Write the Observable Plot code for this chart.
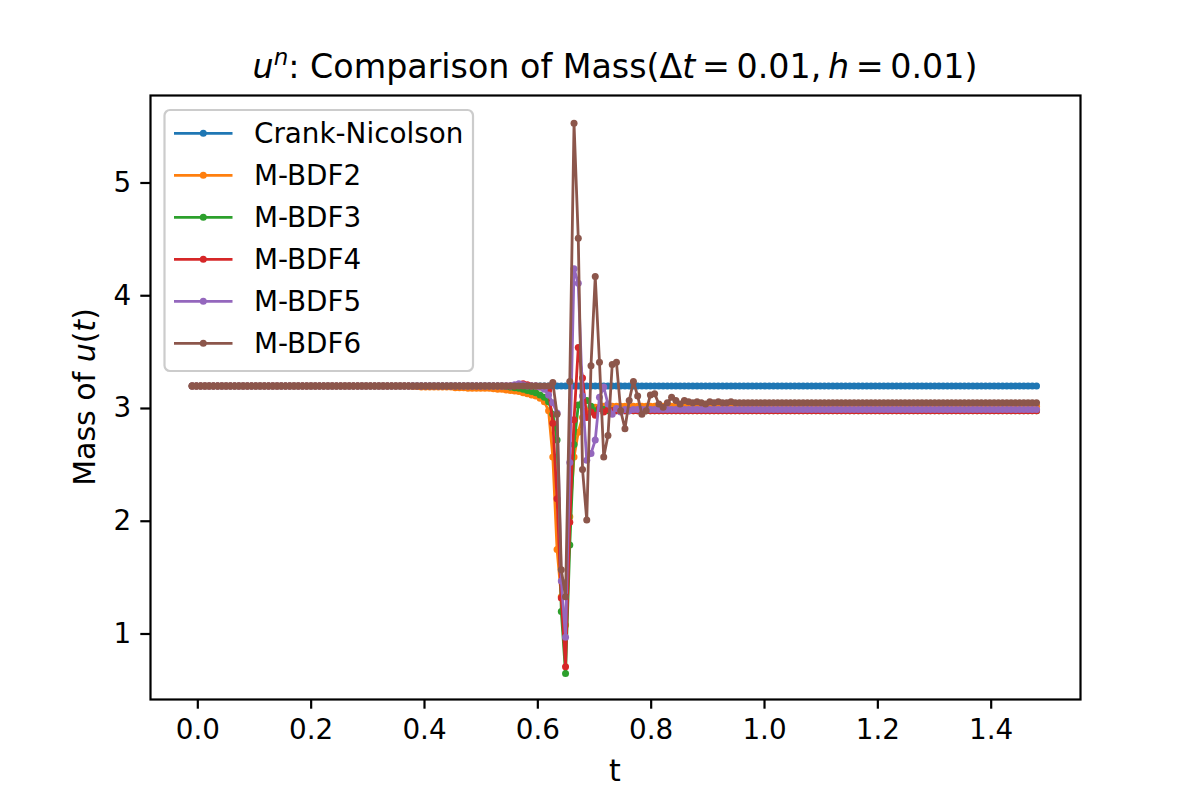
<!DOCTYPE html>
<html><head><meta charset="utf-8">
<script src="https://cdn.jsdelivr.net/npm/d3@7"></script>
<script src="https://cdn.jsdelivr.net/npm/@observablehq/plot@0.6"></script>
<style>
html,body{margin:0;padding:0;background:#fff;}
#chart{width:1200px;height:800px;}
</style></head><body><div id="chart"></div>
<script>
// sample times (x), evenly spaced grid
const tFirst = -0.01, tLast = 1.48, nSamples = 200;
const xTicks = [0, 0.2, 0.4, 0.6, 0.8, 1.0, 1.2, 1.4];
const yTicks = [1, 2, 3, 4, 5];
const seriesNames = ["Crank-Nicolson", "M-BDF2", "M-BDF3", "M-BDF4", "M-BDF5", "M-BDF6"];
const seriesColors = ["#1f77b4", "#ff7f0e", "#2ca02c", "#d62728", "#9467bd", "#8c564b"];

const massCN = [
3.2,3.2,3.2,3.2,3.2,3.2,3.2,3.2,3.2,3.2, 3.2,3.2,3.2,3.2,3.2,3.2,3.2,3.2,3.2,3.2,
3.2,3.2,3.2,3.2,3.2,3.2,3.2,3.2,3.2,3.2, 3.2,3.2,3.2,3.2,3.2,3.2,3.2,3.2,3.2,3.2,
3.2,3.2,3.2,3.2,3.2,3.2,3.2,3.2,3.2,3.2, 3.2,3.2,3.2,3.2,3.2,3.2,3.2,3.2,3.2,3.2,
3.2,3.2,3.2,3.2,3.2,3.2,3.2,3.2,3.2,3.2, 3.2,3.2,3.2,3.2,3.2,3.2,3.2,3.2,3.2,3.2,
3.2,3.2,3.2,3.2,3.2,3.2,3.2,3.2,3.2,3.2, 3.2,3.2,3.2,3.2,3.2,3.2,3.2,3.2,3.2,3.2,
3.2,3.2,3.2,3.2,3.2,3.2,3.2,3.2,3.2,3.2, 3.2,3.2,3.2,3.2,3.2,3.2,3.2,3.2,3.2,3.2,
3.2,3.2,3.2,3.2,3.2,3.2,3.2,3.2,3.2,3.2, 3.2,3.2,3.2,3.2,3.2,3.2,3.2,3.2,3.2,3.2,
3.2,3.2,3.2,3.2,3.2,3.2,3.2,3.2,3.2,3.2, 3.2,3.2,3.2,3.2,3.2,3.2,3.2,3.2,3.2,3.2,
3.2,3.2,3.2,3.2,3.2,3.2,3.2,3.2,3.2,3.2, 3.2,3.2,3.2,3.2,3.2,3.2,3.2,3.2,3.2,3.2,
3.2,3.2,3.2,3.2,3.2,3.2,3.2,3.2,3.2,3.2, 3.2,3.2,3.2,3.2,3.2,3.2,3.2,3.2,3.2,3.2
];
const massBDF2 = [
3.2,3.2,3.2,3.2,3.2,3.2,3.2,3.2,3.2,3.2, 3.2,3.2,3.2,3.2,3.2,3.2,3.2,3.2,3.2,3.2,
3.2,3.2,3.2,3.2,3.2,3.2,3.2,3.2,3.2,3.2, 3.2,3.2,3.2,3.2,3.2,3.2,3.2,3.2,3.2,3.2,
3.2,3.2,3.2,3.2,3.2,3.2,3.2,3.2,3.2,3.2, 3.2,3.2,3.195,3.195,3.19,3.19,3.19,3.19,3.19,3.19,
3.19,3.19,3.185,3.185,3.185,3.18,3.18,3.18,3.18,3.18, 3.18,3.175,3.17,3.17,3.165,3.16,3.155,3.15,3.14,3.13,
3.12,3.11,3.09,3.06,2.98,2.57,1.75,1.33,1.08,2.04, 2.57,2.79,2.92,2.98,3.0,3.01,3.01,3.02,3.02,3.02,
3.02,3.02,3.02,3.02,3.02,3.02,3.02,3.02,3.02,3.02, 3.02,3.02,3.02,3.02,3.02,3.02,3.02,3.02,3.02,3.02,
3.02,3.02,3.02,3.02,3.02,3.02,3.02,3.02,3.02,3.02, 3.02,3.02,3.02,3.02,3.02,3.02,3.02,3.02,3.02,3.02,
3.02,3.02,3.02,3.02,3.02,3.02,3.02,3.02,3.02,3.02, 3.02,3.02,3.02,3.02,3.02,3.02,3.02,3.02,3.02,3.02,
3.02,3.02,3.02,3.02,3.02,3.02,3.02,3.02,3.02,3.02, 3.02,3.02,3.02,3.02,3.02,3.02,3.02,3.02,3.02,3.02,
3.02,3.02,3.02,3.02,3.02,3.02,3.02,3.02,3.02,3.02, 3.02,3.02,3.02,3.02,3.02,3.02,3.02,3.02,3.02,3.02
];
const massBDF3 = [
3.2,3.2,3.2,3.2,3.2,3.2,3.2,3.2,3.2,3.2, 3.2,3.2,3.2,3.2,3.2,3.2,3.2,3.2,3.2,3.2,
3.2,3.2,3.2,3.2,3.2,3.2,3.2,3.2,3.2,3.2, 3.2,3.2,3.2,3.2,3.2,3.2,3.2,3.2,3.2,3.2,
3.2,3.2,3.2,3.2,3.2,3.2,3.2,3.2,3.2,3.2, 3.2,3.2,3.2,3.2,3.2,3.2,3.2,3.2,3.2,3.2,
3.2,3.2,3.2,3.2,3.2,3.2,3.2,3.2,3.2,3.2, 3.2,3.2,3.2,3.2,3.195,3.19,3.185,3.18,3.17,3.16,
3.15,3.14,3.12,3.10,3.06,2.95,2.72,1.20,0.65,1.79, 2.68,3.03,3.05,3.07,3.02,2.98,3.0,2.99,2.98,2.98,
2.98,2.98,2.98,2.98,2.98,2.98,2.98,2.98,2.98,2.98, 2.98,2.98,2.98,2.98,2.98,2.98,2.98,2.98,2.98,2.98,
2.98,2.98,2.98,2.98,2.98,2.98,2.98,2.98,2.98,2.98, 2.98,2.98,2.98,2.98,2.98,2.98,2.98,2.98,2.98,2.98,
2.98,2.98,2.98,2.98,2.98,2.98,2.98,2.98,2.98,2.98, 2.98,2.98,2.98,2.98,2.98,2.98,2.98,2.98,2.98,2.98,
2.98,2.98,2.98,2.98,2.98,2.98,2.98,2.98,2.98,2.98, 2.98,2.98,2.98,2.98,2.98,2.98,2.98,2.98,2.98,2.98,
2.98,2.98,2.98,2.98,2.98,2.98,2.98,2.98,2.98,2.98, 2.98,2.98,2.98,2.98,2.98,2.98,2.98,2.98,2.98,2.98
];
const massBDF4 = [
3.2,3.2,3.2,3.2,3.2,3.2,3.2,3.2,3.2,3.2, 3.2,3.2,3.2,3.2,3.2,3.2,3.2,3.2,3.2,3.2,
3.2,3.2,3.2,3.2,3.2,3.2,3.2,3.2,3.2,3.2, 3.2,3.2,3.2,3.2,3.2,3.2,3.2,3.2,3.2,3.2,
3.2,3.2,3.2,3.2,3.2,3.2,3.2,3.2,3.2,3.2, 3.2,3.2,3.2,3.2,3.2,3.2,3.2,3.2,3.2,3.2,
3.2,3.2,3.2,3.2,3.2,3.2,3.2,3.2,3.2,3.2, 3.2,3.2,3.2,3.2,3.2,3.2,3.2,3.21,3.22,3.21,
3.2,3.2,3.19,3.18,3.16,2.87,2.2,1.32,0.71,1.99, 2.9,3.54,3.27,2.92,2.97,2.94,3.0,2.97,2.99,2.98,
2.98,2.98,2.98,2.98,2.98,2.98,2.98,2.98,2.98,2.98, 2.98,2.98,2.98,2.98,2.98,2.98,2.98,2.98,2.98,2.98,
2.98,2.98,2.98,2.98,2.98,2.98,2.98,2.98,2.98,2.98, 2.98,2.98,2.98,2.98,2.98,2.98,2.98,2.98,2.98,2.98,
2.98,2.98,2.98,2.98,2.98,2.98,2.98,2.98,2.98,2.98, 2.98,2.98,2.98,2.98,2.98,2.98,2.98,2.98,2.98,2.98,
2.98,2.98,2.98,2.98,2.98,2.98,2.98,2.98,2.98,2.98, 2.98,2.98,2.98,2.98,2.98,2.98,2.98,2.98,2.98,2.98,
2.98,2.98,2.98,2.98,2.98,2.98,2.98,2.98,2.98,2.98, 2.98,2.98,2.98,2.98,2.98,2.98,2.98,2.98,2.98,2.98
];
const massBDF5 = [
3.2,3.2,3.2,3.2,3.2,3.2,3.2,3.2,3.2,3.2, 3.2,3.2,3.2,3.2,3.2,3.2,3.2,3.2,3.2,3.2,
3.2,3.2,3.2,3.2,3.2,3.2,3.2,3.2,3.2,3.2, 3.2,3.2,3.2,3.2,3.2,3.2,3.2,3.2,3.2,3.2,
3.2,3.2,3.2,3.2,3.2,3.2,3.2,3.2,3.2,3.2, 3.2,3.2,3.2,3.2,3.2,3.2,3.2,3.2,3.2,3.2,
3.2,3.2,3.2,3.2,3.2,3.2,3.2,3.2,3.2,3.2, 3.2,3.2,3.2,3.2,3.2,3.2,3.21,3.22,3.21,3.2,
3.2,3.2,3.19,3.17,3.12,3.05,2.96,1.47,0.97,2.52, 4.24,4.11,3.11,2.54,2.60,2.72,3.10,3.19,3.04,2.95,
3.0,2.97,2.99,2.98,2.99,2.99,2.99,2.99,2.99,2.99, 2.99,2.99,2.99,2.99,2.99,2.99,2.99,2.99,2.99,2.99,
2.99,2.99,2.99,2.99,2.99,2.99,2.99,2.99,2.99,2.99, 2.99,2.99,2.99,2.99,2.99,2.99,2.99,2.99,2.99,2.99,
2.99,2.99,2.99,2.99,2.99,2.99,2.99,2.99,2.99,2.99, 2.99,2.99,2.99,2.99,2.99,2.99,2.99,2.99,2.99,2.99,
2.99,2.99,2.99,2.99,2.99,2.99,2.99,2.99,2.99,2.99, 2.99,2.99,2.99,2.99,2.99,2.99,2.99,2.99,2.99,2.99,
2.99,2.99,2.99,2.99,2.99,2.99,2.99,2.99,2.99,2.99, 2.99,2.99,2.99,2.99,2.99,2.99,2.99,2.99,2.99,2.99
];
const massBDF6 = [
3.2,3.2,3.2,3.2,3.2,3.2,3.2,3.2,3.2,3.2, 3.2,3.2,3.2,3.2,3.2,3.2,3.2,3.2,3.2,3.2,
3.2,3.2,3.2,3.2,3.2,3.2,3.2,3.2,3.2,3.2, 3.2,3.2,3.2,3.2,3.2,3.2,3.2,3.2,3.2,3.2,
3.2,3.2,3.2,3.2,3.2,3.2,3.2,3.2,3.2,3.2, 3.2,3.2,3.2,3.2,3.2,3.2,3.2,3.2,3.2,3.2,
3.2,3.2,3.2,3.2,3.2,3.2,3.2,3.2,3.2,3.2, 3.2,3.2,3.2,3.2,3.2,3.2,3.2,3.2,3.2,3.2,
3.2,3.2,3.2,3.2,3.2,3.23,2.95,1.57,1.33,3.24, 5.53,4.51,2.46,2.01,3.38,4.17,3.41,2.57,2.76,3.39,
3.41,2.98,2.82,3.07,3.24,3.11,2.95,2.98,3.12,3.13, 3.04,3.01,3.05,3.10,3.07,3.04,3.07,3.06,3.05,3.06,
3.05,3.04,3.06,3.05,3.06,3.05,3.05,3.06,3.05,3.05, 3.05,3.05,3.05,3.05,3.05,3.05,3.05,3.05,3.05,3.05,
3.05,3.05,3.05,3.05,3.05,3.05,3.05,3.05,3.05,3.05, 3.05,3.05,3.05,3.05,3.05,3.05,3.05,3.05,3.05,3.05,
3.05,3.05,3.05,3.05,3.05,3.05,3.05,3.05,3.05,3.05, 3.05,3.05,3.05,3.05,3.05,3.05,3.05,3.05,3.05,3.05,
3.05,3.05,3.05,3.05,3.05,3.05,3.05,3.05,3.05,3.05, 3.05,3.05,3.05,3.05,3.05,3.05,3.05,3.05,3.05,3.05
];
const seriesValues = [massCN, massBDF2, massBDF3, massBDF4, massBDF5, massBDF6];

const tGrid = d3.range(nSamples).map(i => tFirst + i * (tLast - tFirst) / (nSamples - 1));

const FONT = "DejaVu Sans";
const marks = [];
seriesValues.forEach((vals, k) => {
  const rows = vals.map((v, i) => ({t: tGrid[i], v, name: seriesNames[k]}));
  marks.push(Plot.line(rows, {x: "t", y: "v", stroke: seriesColors[k], strokeWidth: 2.8}));
  marks.push(Plot.dot(rows, {x: "t", y: "v", r: 3.5, fill: seriesColors[k], stroke: "none"}));
});

const chart = Plot.plot({
  width: 1200, height: 800,
  marginLeft: 150, marginRight: 120, marginTop: 95, marginBottom: 101,
  style: {fontFamily: FONT, color: "black", background: "white", overflow: "visible"},
  x: {domain: [-0.0835, 1.5576]},
  y: {domain: [0.419, 5.776]},
  marks: [
    ...marks,
    Plot.frame({stroke: "black", strokeWidth: 2.2}),
    Plot.axisX({ticks: xTicks, tickSize: 9.7, tickPadding: 9.7, tickFormat: d3.format(".1f"), fontSize: 27.8, strokeWidth: 2.2, label: null}),
    Plot.axisY({ticks: yTicks, tickSize: 9.7, tickPadding: 9.7, tickFormat: d3.format("d"), fontSize: 27.8, strokeWidth: 2.2, label: null})
  ]
});
document.getElementById("chart").appendChild(chart);

const svg = d3.select(chart);
// title
const title = svg.append("text").attr("x", 615).attr("y", 78)
  .attr("text-anchor", "middle").attr("font-family", FONT).attr("font-size", 33.3).attr("fill", "black");
title.append("tspan").attr("font-style", "italic").text("u");
title.append("tspan").attr("font-style", "italic").attr("font-size", 23).attr("dy", -13).text("n");
title.append("tspan").attr("dy", 13).text(": Comparison of Mass(Δ");
title.append("tspan").attr("font-style", "italic").text("t");
title.append("tspan").text("\u2009=\u20090.01,\u2009");
title.append("tspan").attr("font-style", "italic").text("h");
title.append("tspan").text("\u2009=\u20090.01)");

// x label
svg.append("text").attr("x", 615).attr("y", 781).attr("text-anchor", "middle")
  .attr("font-family", FONT).attr("font-size", 30).attr("fill", "black").text("t");

// y label
const yl = svg.append("text").attr("transform", "translate(95,397) rotate(-90)")
  .attr("text-anchor", "middle").attr("font-family", FONT).attr("font-size", 30).attr("fill", "black");
yl.append("tspan").text("Mass of ");
yl.append("tspan").attr("font-style", "italic").text("u");
yl.append("tspan").text("(");
yl.append("tspan").attr("font-style", "italic").text("t");
yl.append("tspan").text(")");

// legend
const lg = svg.append("g");
lg.append("rect").attr("x", 164.5).attr("y", 110).attr("width", 308.5).attr("height", 261)
  .attr("rx", 5.5).attr("fill", "white").attr("fill-opacity", 0.8)
  .attr("stroke", "#cccccc").attr("stroke-width", 2.2);
const rowY = [133.3, 175.3, 217.3, 259.3, 301.3, 343.3];
seriesNames.forEach((name, k) => {
  const y = rowY[k];
  lg.append("line").attr("x1", 174).attr("x2", 232.5).attr("y1", y).attr("y2", y)
    .attr("stroke", seriesColors[k]).attr("stroke-width", 2.8);
  lg.append("circle").attr("cx", 203.3).attr("cy", y).attr("r", 3.5).attr("fill", seriesColors[k]);
  lg.append("text").attr("x", 254).attr("y", y).attr("dy", "0.36em").attr("text-anchor", "start")
    .attr("font-family", FONT).attr("font-size", 27.8).attr("fill", "black").text(name);
});
</script>
</body></html>
